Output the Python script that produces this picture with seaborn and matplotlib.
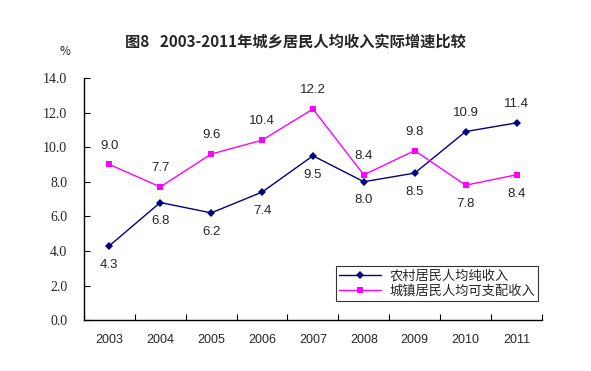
import matplotlib
matplotlib.use("Agg")
import matplotlib.pyplot as plt
import seaborn as sns
import pandas as pd

years = ["2003", "2004", "2005", "2006", "2007", "2008", "2009", "2010", "2011"]
rural = [4.3, 6.8, 6.2, 7.4, 9.5, 8.0, 8.5, 10.9, 11.4]
urban = [9.0, 7.7, 9.6, 10.4, 12.2, 8.4, 9.8, 7.8, 8.4]
rural_name = "农村居民人均纯收入"
urban_name = "城镇居民人均可支配收入"
# 数据标签方向: 1 = 上方, -1 = 下方
rural_side = [-1, -1, -1, -1, -1, -1, -1, 1, 1]
urban_side = [1, 1, 1, 1, 1, 1, 1, -1, -1]
yticks = [0, 2, 4, 6, 8, 10, 12, 14]

sns.set_theme(style="white")
plt.rcParams['font.family'] = ['Noto Sans CJK SC', 'DejaVu Sans']

df = pd.DataFrame({
    'pos': list(range(len(years))) * 2,
    'value': rural + urban,
    'series': [rural_name] * len(years) + [urban_name] * len(years),
})

fig = plt.figure(figsize=(5.91, 3.71), dpi=100)
ax = fig.add_axes([0.142, 0.137, 0.775, 0.653])

sns.lineplot(data=df, x='pos', y='value', hue='series', style='series',
             palette={rural_name: '#000080', urban_name: '#FF00FF'},
             markers={rural_name: 'D', urban_name: 's'},
             dashes=False, linewidth=1, markersize=4.5, markeredgewidth=0,
             ax=ax)

# 数据标签
for vals, sides in ((rural, rural_side), (urban, urban_side)):
    for i, (v, s) in enumerate(zip(vals, sides)):
        ax.annotate(f'{v:.1f}', (i, v), xytext=(0, 13.5 * s), textcoords='offset points',
                    ha='center', va='center', fontsize=9.5, family='Liberation Sans')

ax.set_xlim(-0.5, len(years) - 0.5)
ax.set_ylim(0, 14)
ax.set_xticks([i - 0.5 for i in range(len(years) + 1)], minor=False)
ax.set_xticklabels([])
ax.set_xticks(range(len(years)), minor=True)
ax.set_xticklabels(years, minor=True, fontsize=9, family='Liberation Sans')
ax.tick_params(axis='x', which='major', bottom=True, direction='in', length=4, width=0.8, color='black')
ax.tick_params(axis='x', which='minor', bottom=True, length=0, pad=10)
ax.set_yticks(yticks)
ax.set_yticklabels([f'{t:.1f}' for t in yticks], fontsize=10, family='Liberation Serif')
ax.tick_params(axis='y', left=True, direction='in', length=4, width=0.8, color='black', pad=12)
ax.set_xlabel('')
ax.set_ylabel('')

for side in ('top', 'right'):
    ax.spines[side].set_visible(False)
for side in ('left', 'bottom'):
    ax.spines[side].set_color('black')
    ax.spines[side].set_linewidth(1)

leg = ax.legend(loc='lower right', bbox_to_anchor=(0.992, 0.08), fontsize=9.5,
                frameon=True, fancybox=False, handlelength=3.2, borderpad=0.25,
                labelspacing=0.15, handletextpad=0.6, borderaxespad=0)
leg.get_frame().set_edgecolor('black')
leg.get_frame().set_linewidth(0.8)

fig.text(0.5, 0.885, '图8   2003-2011年城乡居民人均收入实际增速比较', ha='center', va='center',
         fontsize=11, fontweight='semibold')
fig.text(0.11, 0.862, '%', ha='center', va='center', fontsize=8.5)

fig.savefig('out.png', dpi=100)
